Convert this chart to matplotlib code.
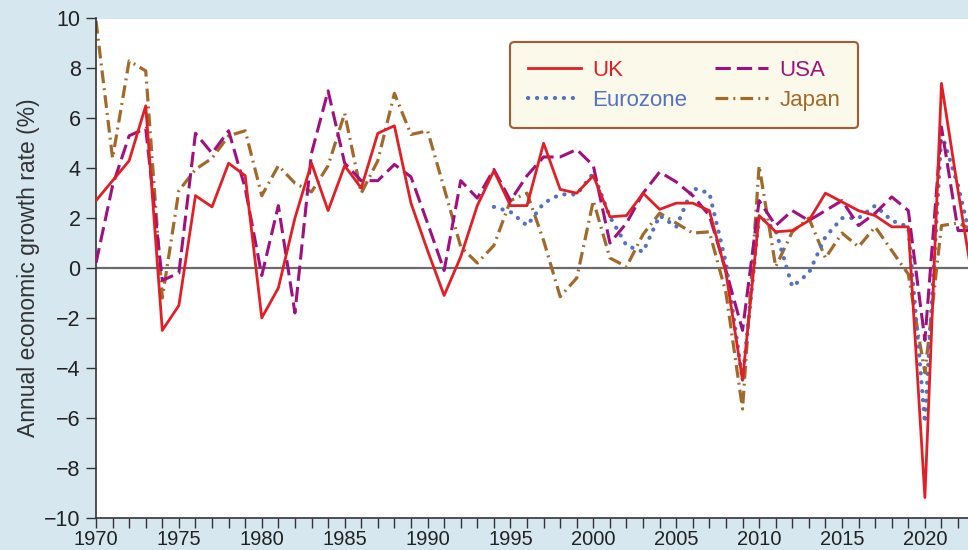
import matplotlib
matplotlib.use("Agg")
import matplotlib.pyplot as plt
import numpy as np

years = list(range(1970, 2024))
uk = [2.7, 3.5, 4.3, 6.5, -2.5, -1.5, 2.9, 2.45, 4.2, 3.7,
      -2.0, -0.8, 2.0, 4.2, 2.3, 4.1, 3.2, 5.4, 5.7, 2.6,
      0.7, -1.1, 0.45, 2.5, 3.9, 2.5, 2.5, 5.0, 3.15, 3.0,
      3.7, 2.05, 2.1, 3.0, 2.35, 2.6, 2.6, 2.3, -0.2, -4.5,
      2.1, 1.45, 1.5, 1.9, 3.0, 2.65, 2.3, 2.1, 1.65, 1.65,
      -9.2, 7.4, 3.1, -1.0]
usa = [0.2, 3.3, 5.3, 5.6, -0.5, -0.2, 5.4, 4.6, 5.5, 3.2,
       -0.3, 2.5, -1.8, 4.6, 7.1, 4.2, 3.5, 3.5, 4.15, 3.65,
       1.8, -0.1, 3.5, 2.8, 3.95, 2.7, 3.7, 4.45, 4.45, 4.75,
       4.1, 1.0, 1.8, 3.0, 3.85, 3.45, 2.9, 2.1, -0.1, -2.5,
       2.7, 1.7, 2.3, 1.9, 2.3, 2.7, 1.7, 2.2, 2.85, 2.3,
       -2.9, 5.65, 1.5, 1.5]
euro_years = list(range(1994, 2024))
eurozone = [2.45, 2.25, 1.7, 2.6, 2.95, 2.95, 3.8, 2.05, 0.9, 0.65,
            2.1, 1.65, 3.2, 3.0, 0.2, -4.5, 2.1, 1.5, -0.75, -0.2,
            1.25, 2.0, 2.0, 2.5, 1.9, 1.65, -6.2, 5.4, 3.3, 0.5]
japan = [9.9, 4.4, 8.3, 7.9, -1.2, 3.1, 3.95, 4.4, 5.3, 5.5,
         2.9, 4.1, 3.4, 3.05, 4.1, 6.2, 3.0, 4.3, 7.0, 5.35,
         5.5, 3.2, 0.85, 0.2, 0.9, 2.7, 3.0, 1.1, -1.15, -0.4,
         2.7, 0.4, 0.05, 1.35, 2.2, 1.8, 1.4, 1.45, -1.0, -5.65,
         4.1, 0.05, 1.45, 2.0, 0.4, 1.4, 0.85, 1.65, 0.7, -0.25,
         -4.2, 1.7, 1.8, 1.5]

yticks = list(range(-10, 11, 2))
xlabels = list(range(1970, 2021, 5))

BG = "#d6e7f0"
C_UK = "#e31e24"
C_USA = "#a0107f"
C_EU = "#5572bf"
C_JP = "#a26a2a"

plt.rcParams['font.family'] = ['Liberation Sans', 'DejaVu Sans']

fig = plt.figure(figsize=(9.68, 5.5), dpi=100, facecolor=BG)
ax = fig.add_axes([96/968, 1-517.5/550, 872/968, (517.5-18.5)/550])
ax.set_facecolor("white")

ax.axhline(0, color="#6b6b6b", lw=1.6, zorder=1)

ax.plot(years, japan, color=C_JP, lw=2.3, linestyle=(0, (4, 1.6, 0.6, 1.6)),
        label="Japan", zorder=2, dash_capstyle="butt")
ax.plot(euro_years, eurozone, color=C_EU, lw=3.0, linestyle=(0, (0.05, 2.1)),
        dash_capstyle="round", label="Eurozone", zorder=3)
ax.plot(years, usa, color=C_USA, lw=2.2, linestyle=(0, (5, 2)),
        label="USA", zorder=4)
ax.plot(years, uk, color=C_UK, lw=2.0, label="UK", zorder=5)

ax.set_xlim(1970, 2022.6)
ax.set_ylim(-10, 10)
ax.set_yticks(yticks)
ax.set_yticklabels([str(v).replace("-", "\u2212") for v in yticks])
ax.set_xticks(xlabels)
ax.set_xticks(range(1970, 2023), minor=True)
ax.tick_params(axis="both", which="both", direction="out", length=7,
               width=1.0, color="#333333", labelcolor="#222222")
ax.tick_params(axis="x", pad=2, labelsize=14.5)
ax.tick_params(axis="y", pad=4, labelsize=15.5)
for s in ["top", "right"]:
    ax.spines[s].set_visible(False)
for s in ["left", "bottom"]:
    ax.spines[s].set_color("#333333")
    ax.spines[s].set_linewidth(1.2)

ax.set_ylabel("Annual economic growth rate (%)", fontsize=16.5, color="#333333",
              labelpad=3)

h, l = ax.get_legend_handles_labels()
order = [l.index("UK"), l.index("Eurozone"), l.index("USA"), l.index("Japan")]
leg = ax.legend([h[i] for i in order], [l[i] for i in order], ncol=2,
                loc="upper left", bbox_to_anchor=(0.475, 0.953, 0.399, 0.0),
                mode="expand", fontsize=16, handlelength=2.4, handletextpad=0.5,
                borderpad=0.8, labelspacing=0.4, frameon=True, fancybox=True,
                labelcolor="linecolor", borderaxespad=0)
fr = leg.get_frame()
fr.set_facecolor("#fbfaea")
fr.set_edgecolor("#a85a30")
fr.set_linewidth(1.5)
fr.set_alpha(1)

fig.savefig("out.png", dpi=100, facecolor=BG)
